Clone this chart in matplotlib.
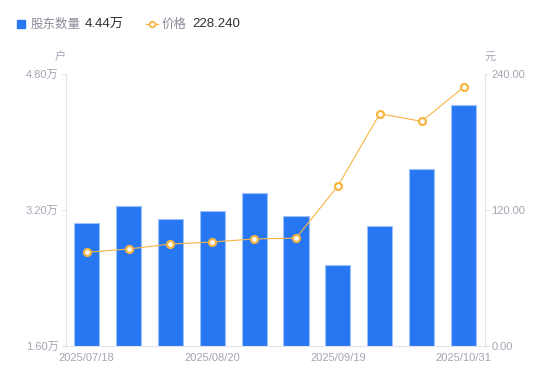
import matplotlib
matplotlib.use("Agg")
import matplotlib.pyplot as plt
from matplotlib.lines import Line2D
from matplotlib.patches import Rectangle

plt.rcParams['font.family'] = ['Liberation Sans', 'Noto Sans CJK SC', 'DejaVu Sans']
CJK = ['Noto Sans CJK SC', 'DejaVu Sans']

dates = ["2025/07/18", "2025/07/31", "2025/08/10", "2025/08/20", "2025/08/31",
         "2025/09/10", "2025/09/19", "2025/09/30", "2025/10/20", "2025/10/31"]
holders = [3.05, 3.24, 3.09, 3.19, 3.40, 3.13, 2.55, 3.01, 3.68, 4.44]   # 万户
price = [82.5, 85.4, 89.8, 91.6, 94.3, 95.0, 141.1, 204.9, 198.2, 228.24]
left_ticks = [1.60, 3.20, 4.80]
right_ticks = [0.0, 120.0, 240.0]
shown_ticks = [0, 3, 6, 9]

W, H = 550, 381
fig = plt.figure(figsize=(W / 100, H / 100), dpi=100)
x0, x1, y0, y1 = 65.7, 484.5, 74.0, 345.7
ax = fig.add_axes([x0 / W, 1 - y1 / H, (x1 - x0) / W, (y1 - y0) / H])
ax2 = ax.twinx()

grey = "#a3a5b3"
axis_c = "#e3e4ea"
blue = "#2777f2"
orange = "#f8b543"

xs = list(range(len(dates)))
ax.bar(xs, holders, width=0.6, color=blue, edgecolor="#9cc1fb", linewidth=0.8, zorder=2)
ax.set_xlim(-0.5, len(dates) - 0.5)
ax.set_ylim(left_ticks[0], left_ticks[-1])
ax.set_yticks(left_ticks)
ax.set_yticklabels([f"{v:.2f}万" for v in left_ticks])
ax.set_xticks([xs[i] for i in shown_ticks])
ax.set_xticklabels([dates[i] for i in shown_ticks])

ax2.plot(xs, price, color=orange, linewidth=0.8, marker="o", markersize=5,
         markerfacecolor="white", markeredgecolor=orange, markeredgewidth=1.6, zorder=3)
ax2.set_ylim(right_ticks[0], right_ticks[-1])
ax2.set_yticks(right_ticks)
ax2.set_yticklabels([f"{v:.2f}" for v in right_ticks])

for a in (ax, ax2):
    for s in a.spines.values():
        s.set_visible(False)
    a.tick_params(labelsize=8, labelcolor=grey, color=axis_c, length=3, width=0.8)
ax.spines['left'].set_visible(True)
ax.spines['left'].set_color(axis_c)
ax.spines['bottom'].set_visible(True)
ax.spines['bottom'].set_color(axis_c)
ax2.spines['right'].set_visible(True)
ax2.spines['right'].set_color(axis_c)
ax.tick_params(axis='x', length=0, pad=5)
ax.tick_params(axis='y', pad=2)
ax2.tick_params(axis='y', pad=2)

# unit labels
fig.text(60 / W, 1 - 57 / H, "户", color=grey, fontsize=8, ha='center', va='center', family=CJK)
fig.text(490 / W, 1 - 57 / H, "元", color=grey, fontsize=8, ha='center', va='center', family=CJK)

# custom legend
fig.patches.append(Rectangle((17 / W, 1 - 28 / H), 8 / W, 8 / H, transform=fig.transFigure,
                             color=blue, figure=fig))
fig.text(31 / W, 1 - 24 / H, "股东数量", color="#8a8c99", fontsize=9, va='center', family=CJK)
fig.text(85 / W, 1 - 24 / H, f"{holders[-1]:.2f}万", color="#333333", fontsize=9.5, va='center')
fig.lines.append(Line2D([146 / W, 152 / W, 158 / W], [1 - 24 / H] * 3, transform=fig.transFigure,
                        color=orange, linewidth=1, marker="o", markersize=4, markevery=[1],
                        markerfacecolor="white", markeredgecolor=orange, markeredgewidth=1.3))
fig.text(162 / W, 1 - 24 / H, "价格", color="#8a8c99", fontsize=9, va='center', family=CJK)
fig.text(192 / W, 1 - 24 / H, f"{price[-1]:.3f}", color="#333333", fontsize=9.5, va='center')

fig.savefig("out.png", dpi=100)
